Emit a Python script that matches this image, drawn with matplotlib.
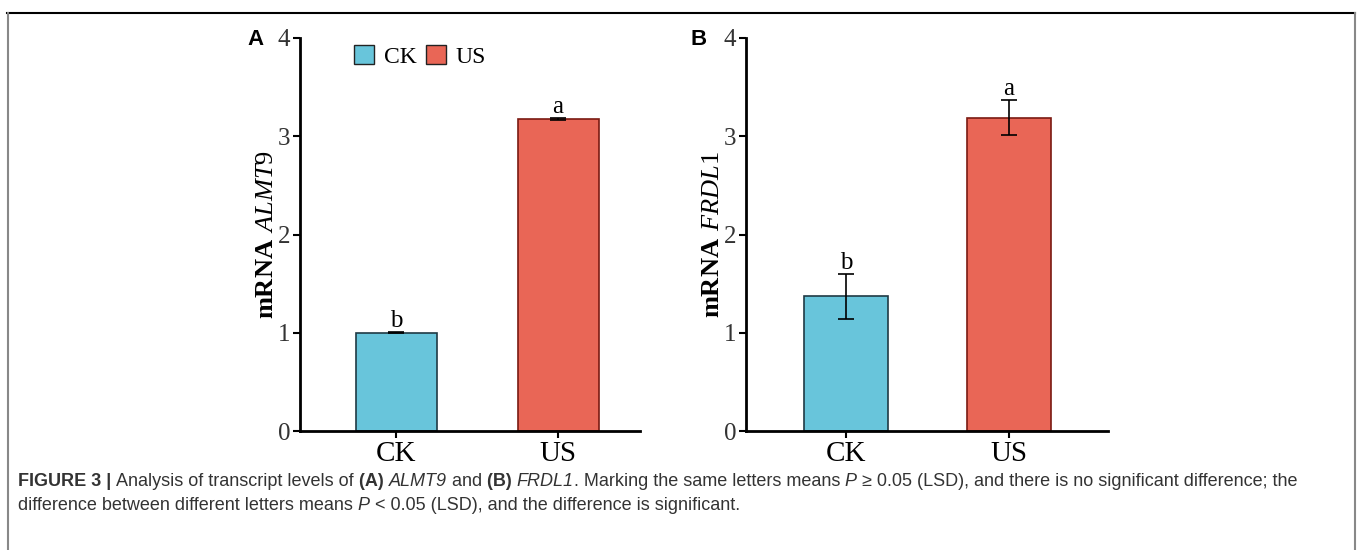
import matplotlib.pyplot as plt
from matplotlib.lines import Line2D
from matplotlib.patches import Patch

groups = ["CK", "US"]
almt9 = [1.00, 3.18]
almt9_err = [0.005, 0.01]
frdl1 = [1.37, 3.19]
frdl1_err = [0.225, 0.18]
almt9_letters = ["b", "a"]
frdl1_letters = ["b", "a"]
yticks = [0, 1, 2, 3, 4]

colors = ["#68C5DB", "#E96656"]
edges = ["#1f3a44", "#7a1a12"]
serif = ["Liberation Serif", "DejaVu Serif"]
sans = ["Liberation Sans", "DejaVu Sans"]

plt.rcParams["mathtext.fontset"] = "custom"
plt.rcParams["mathtext.it"] = "Liberation Serif:italic"
plt.rcParams["mathtext.rm"] = "Liberation Serif"
plt.rcParams["mathtext.bf"] = "Liberation Serif:bold"

W, H = 1360, 550
fig = plt.figure(figsize=(W / 100, H / 100), dpi=100)


def px_axes(x0, x1, y_top, y_bot):
    return fig.add_axes([x0 / W, 1 - y_bot / H, (x1 - x0) / W, (y_bot - y_top) / H])


def panel(ax, vals, errs, letters, gene, tag, xlim, bw, legend=False):
    pos = list(range(len(groups)))
    ax.bar(pos, vals, width=bw, color=colors, edgecolor=edges, linewidth=1.2, zorder=2)
    ax.errorbar(pos, vals, yerr=errs, fmt="none", ecolor="black", elinewidth=1.2,
                capsize=5.5, capthick=1.2, zorder=3)
    for p, v, e, l in zip(pos, vals, errs, letters):
        ax.text(p, v + e + 0.0, l, ha="center", va="bottom", family=serif, fontsize=18)
    ax.set_xlim(*xlim)
    ax.set_ylim(0, 4)
    ax.set_yticks(yticks)
    ax.set_xticks(pos)
    ax.set_xticklabels(groups, family=serif, fontsize=21)
    ax.set_yticklabels([str(t) for t in yticks], family=serif, fontsize=18)
    for lab in ax.get_yticklabels():
        lab.set_color("#333333")
    ax.spines["top"].set_visible(False)
    ax.spines["right"].set_visible(False)
    ax.spines["left"].set_linewidth(2)
    ax.spines["bottom"].set_linewidth(2)
    ax.tick_params(axis="both", width=1.5, length=5, pad=2)
    ax.set_ylabel("$\\mathbf{mRNA}$ $\\mathit{" + gene + "}$", fontsize=19, labelpad=-1)
    ax.text(-45 / 340, 0.995, tag, transform=ax.transAxes, family=sans, fontsize=16,
            fontweight="bold", va="center", ha="center")
    if legend:
        handles = [Patch(facecolor=c, edgecolor="#222222", label=g) for c, g in zip(colors, groups)]
        ax.legend(handles=handles, loc="upper left", bbox_to_anchor=(0.159, 0.982), ncol=2,
                  frameon=False, prop={"family": serif, "size": 17}, handlelength=0.85,
                  handleheight=0.85, handletextpad=0.4, columnspacing=0.4,
                  borderpad=0, borderaxespad=0)


axA = px_axes(300, 640, 38, 431)
panel(axA, almt9, almt9_err, almt9_letters, "ALMT9", "A", (-0.593, 1.506), 0.5, legend=True)
axB = px_axes(746, 1108, 38, 431)
panel(axB, frdl1, frdl1_err, frdl1_letters, "FRDL1", "B", (-0.613, 1.607), 0.51)

# frame
fig.add_artist(Line2D([7 / W, 1355 / W], [1 - 13 / H, 1 - 13 / H], color="black", lw=1.5))
fig.add_artist(Line2D([7.5 / W, 7.5 / W], [0, 1 - 13 / H], color="#888888", lw=1.5))
fig.add_artist(Line2D([1355 / W, 1355 / W], [0, 1 - 13 / H], color="#888888", lw=1.5))

# caption with mixed styles
cap1 = [("FIGURE 3 | ", "bold", "normal"), ("Analysis of transcript levels of ", "normal", "normal"),
        ("(A) ", "bold", "normal"), ("ALMT9", "normal", "italic"), (" and ", "normal", "normal"),
        ("(B) ", "bold", "normal"), ("FRDL1", "normal", "italic"),
        (". Marking the same letters means ", "normal", "normal"), ("P", "normal", "italic"),
        (" \u2265 0.05 (LSD), and there is no significant difference; the", "normal", "normal")]
cap2 = [("difference between different letters means ", "normal", "normal"), ("P", "normal", "italic"),
        (" < 0.05 (LSD), and the difference is significant.", "normal", "normal")]

fig.canvas.draw()
renderer = fig.canvas.get_renderer()


def runs(parts, x, y):
    for s, w, st in parts:
        t = fig.text(x / W, 1 - y / H, s, family=sans, fontsize=13, fontweight=w, fontstyle=st,
                     color="#333333", va="center", ha="left")
        x += t.get_window_extent(renderer).width


runs(cap1, 18, 482)
runs(cap2, 18, 506)

fig.savefig("out.png", dpi=100)
